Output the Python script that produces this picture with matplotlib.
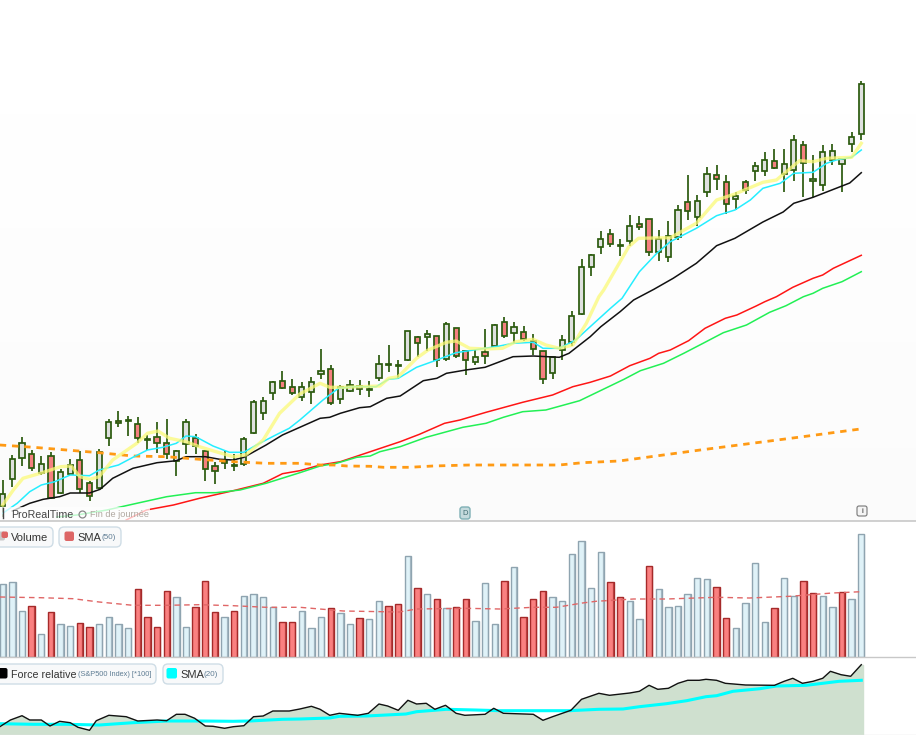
import numpy as np
import matplotlib
matplotlib.use('Agg')
import matplotlib.pyplot as plt
from matplotlib.patches import FancyBboxPatch, Rectangle

plt.rcParams['font.family'] = ['Liberation Sans', 'DejaVu Sans']

# candles, in chart units
opens = [15.3, 42, 63.3, 66.7, 47.7, 64.7, 27.7, 46.7, 60.7, 38.3,
         32.7, 82.7, 99.7, 101, 96.7, 81.7, 84.3, 78.3, 60, 77,
         83.3, 69.7, 54.7, 60.3, 56, 57, 87.7, 107.7, 128.3, 140.3,
         133.7, 124.3, 129.3, 147, 151.7, 122, 129.7, 135.3, 131.7, 142.7,
         156.7, 156.3, 160.7, 184.3, 184.3, 184.7, 162, 193.3, 169.7, 159.3,
         168.7, 174.7, 198.7, 187.7, 188.7, 180.3, 169.7, 148.3, 170.7, 179.3,
         207, 254.3, 274.3, 286.7, 275.7, 280.3, 296.7, 301.7, 269.3, 264.3,
         284.3, 318.7, 304.3, 329.3, 345.7, 338.7, 321.7, 338.7, 349.7, 349.7,
         359.7, 346.7, 350.7, 375.7, 339.7, 335.7, 361, 356.7, 377, 387.3]
highs = [41, 66, 83.7, 71, 65, 68.7, 51.7, 62, 70, 40.3,
         72, 102, 110, 105, 103.7, 86, 98.7, 101.7, 71.3, 101.7,
         86.7, 70.5, 58.7, 70, 66.7, 83.7, 120.7, 124.3, 139.7, 150,
         142, 138.7, 144.3, 171.7, 156, 136, 141, 141, 139.7, 166,
         176, 161, 190.3, 185, 191, 184.7, 198.7, 193.3, 170.3, 171,
         191.7, 196.7, 204, 198.7, 194.7, 187, 169.7, 164.3, 185.7, 209.7,
         261.7, 267, 289.7, 291.7, 282, 306, 305, 301.7, 291, 300,
         316, 345.7, 325.7, 353.7, 356, 345.7, 329, 341, 358.7, 369,
         372, 372, 386, 380, 366, 376, 377, 361.7, 389, 440]
lows = [4.3, 34.3, 55, 50.3, 46, 21.7, 26.7, 46, 27.7, 20.3,
        32, 75.3, 94, 85, 77.7, 71, 67.7, 61.7, 45.3, 67,
        67, 40.3, 37, 51.7, 50.3, 55.3, 87.3, 101, 121, 131.7,
        126, 120.3, 117, 142, 116, 117, 129.3, 126, 124.3, 140.3,
        149.3, 141.7, 160.3, 164.3, 170.3, 154.3, 160.3, 162.7, 146, 156,
        157, 174.3, 182.7, 177, 180.3, 166, 137, 142, 161, 174.7,
        206, 245.3, 267, 274.3, 265, 275.3, 291, 265, 260.3, 259.3,
        281, 301, 295, 324.3, 331, 307.3, 311, 327, 340, 345,
        351.7, 329.3, 340, 324, 323.7, 330.3, 356, 329.3, 369, 381.3]
closes = [26.7, 61.7, 78.3, 52.7, 56.7, 22.7, 48.7, 55.7, 32, 24.7,
          68.7, 98.7, 97.7, 99.7, 82.7, 81, 77.7, 67, 70.3, 98.7,
          75, 52, 49.7, 58, 54.7, 81.7, 118.7, 120.3, 138.7, 132.7,
          127.7, 134.3, 138.7, 150.3, 117.7, 134.3, 135.7, 131.7, 130.7, 156.7,
          156.3, 155.3, 189.7, 177.7, 186.7, 160.7, 196.7, 164.7, 160.7, 163.7,
          164.7, 195.7, 184.7, 193.7, 181.7, 172, 142, 164.3, 180.7, 204.7,
          253.7, 265.7, 281.7, 276.7, 275, 294.7, 294.3, 269.3, 281.7, 285.3,
          310.7, 310.3, 319.7, 346.7, 341.7, 316.7, 324.7, 330.7, 354.7, 360.7,
          352.7, 356.7, 380.7, 357.7, 341.7, 368.7, 369.7, 361.7, 383.7, 436.7]

black_x = [1, 2.8, 4.2, 5.9, 7, 9, 10.1, 11.4, 13.5, 16, 18, 19, 21, 22.5, 23.9, 25, 27.3, 29, 30.8,
           32.9, 33.9, 35, 37, 38.1, 39.8, 41.2, 43.6, 45, 46, 48, 50, 52.9, 55, 57.7, 58.7, 60.9, 62,
           64, 65.4, 67.5, 69.5, 71.9, 73.5, 74, 75.9, 78.8, 80.9, 82, 84, 87.8, 89]
black_y = [10, 17.7, 21.7, 24.3, 28, 28, 31.7, 42.7, 52.7, 58.3, 60.3, 64.3, 64.3, 61.7, 61, 63.7, 76, 86, 93.7,
           102.7, 103.7, 107.7, 113.3, 114.3, 122.7, 125, 140.3, 142.7, 147.7, 151, 153.7, 164.3, 165, 163.7, 167.7, 184.3, 194.3,
           209.3, 221, 231.7, 242.7, 257.7, 271, 275.3, 282.7, 299, 309, 317.7, 323.7, 338, 348.3]

cyan_x = [0, 1.5, 2.8, 4, 5.4, 7, 9, 10, 12, 13.5, 15, 16.6, 18, 19, 20, 21.8, 23.5, 25, 26.3, 28.3, 29.7, 30.8,
          32, 33.2, 34.8, 36.3, 38.7, 40, 41, 42.9, 45, 47, 50, 51.5, 52.9, 55, 56, 57.7, 59.4, 60.9,
          63, 64.2, 66, 67.8, 69.2, 71.9, 74, 75.9, 77.5, 78.8, 80.6, 82, 84, 85.4, 86.4, 88, 89]
cyan_y = [7.7, 17.7, 29.3, 36, 39.3, 46, 45.3, 51, 56, 63.7, 71, 73.7, 77.7, 85, 84.3, 75, 68.7, 68.7, 76, 86, 92.7, 101,
          111, 121, 132.7, 134.3, 134.3, 141.7, 142.7, 153.7, 161, 168.3, 172.7, 175, 177.7, 178.7, 172.7, 172.7, 181, 194.3,
          212.7, 222.7, 249.3, 267.7, 279.3, 292.7, 305.3, 311, 321, 332.7, 337.7, 347.7, 348.7, 357.7, 361, 363.7, 371]

yellow_x = [0, 1.1, 2.1, 3.9, 6, 7.1, 8, 9, 10, 11.4, 13.9, 15, 16.1, 17.3, 19, 20.4, 22.1, 23.9, 25.2, 27, 28.7, 30.8,
            32.9, 33.9, 35.3, 39.1, 40, 41, 42.9, 44.1, 46, 47, 48.4, 50.1, 51.8, 53.2, 55, 56.3, 57.7, 59.1, 60.5, 61.8,
            62.3, 63.7, 64.9, 65.9, 69.2, 71.9, 74, 75.9, 78.8, 80.2, 82.6, 84, 85.4, 88, 89]
yellow_y = [16, 31, 42.7, 47.7, 54.3, 55, 44.3, 41.7, 44.3, 61, 77.7, 87.7, 90, 82.7, 79.3, 74.3, 69.3, 64.3, 66, 81, 107.7, 127,
            137.7, 133.7, 133.7, 135, 142.7, 144.3, 162.7, 171, 178.7, 180, 172.7, 172, 172.7, 179.3, 181.7, 176, 172.7, 176, 197.7, 224.3,
            231, 254.3, 274.3, 282.7, 283.3, 297.7, 321, 327, 338.7, 341, 360.3, 359.3, 362.7, 363.7, 377.7]

red_x = [12.8, 14.9, 17.7, 20.4, 23.9, 27, 29, 30.8, 32.9, 35, 38.1, 41.2, 43.2, 45.8, 47.4, 50.1, 53.9, 57, 59.1,
         60.9, 63, 65, 67.1, 68, 69.2, 71.1, 72.8, 74.9, 76.1, 78.1, 79, 80.2, 81.9, 84, 85, 86.1, 89]
red_y = [1, 11, 16, 22.7, 30.3, 37.7, 47.3, 50.3, 56, 59.3, 69.3, 79.3, 86.7, 97.7, 101, 108.7, 118.7, 126, 134.3,
         138.7, 145, 155.3, 162.7, 167.7, 171, 180.3, 192.7, 202.7, 206, 215, 219.3, 224.3, 233.7, 242.7, 246, 252.7, 265.7]

green_x = [5.6, 7.7, 10.8, 13.9, 17, 20, 22.1, 24.6, 27.3, 30.8, 32.9, 34.6, 36.7, 38.1, 39.1, 41.2, 43.9, 47.7, 50.1,
           51.9, 53.9, 56.3, 59.8, 62.1, 64.4, 66.1, 68.5, 70.6, 72.6, 74.7, 77.1, 79.5, 81.2, 83, 84, 85, 87, 89]
green_y = [4, 6, 11, 17.7, 24.3, 28.3, 28.3, 31, 37.7, 48.3, 55, 57.7, 63.7, 65, 69.3, 74.3, 83.7, 93.7, 97.7,
           103.7, 109.3, 111, 120.3, 131, 141.7, 150.3, 157.7, 167.7, 177.7, 188.3, 196, 208.7, 215.3, 224.3, 227.7, 232.7, 239.3, 249.3]

orange_x = [-0.3, 3.2, 6.6, 10, 13.5, 17, 20.4, 23.9, 27.3, 30.8, 32.9, 34.3, 35.7, 38.1, 39.5, 42.2, 44.6, 48.4, 57.7, 60.1, 63.9,
            72.3, 82.7, 88.9]
orange_y = [76, 73.7, 71, 68.3, 65, 64.3, 61.7, 59.3, 57.7, 57.7, 56, 56, 55, 54.7, 53.7, 53.7, 55, 56, 56, 58.3, 60,
            71, 84, 92]

volume = [73, 75, 46, 51, 23, 45, 33, 31, 34, 30,
          33, 40, 33, 29, 68, 40, 30, 66, 60, 30,
          50, 76, 45, 40, 46, 61, 63, 60, 50, 35,
          35, 46, 29, 40, 49, 44, 33, 39, 38, 56,
          51, 53, 101, 69, 63, 58, 49, 50, 58, 36,
          74, 33, 76, 90, 40, 58, 66, 60, 56, 103,
          116, 69, 105, 75, 60, 56, 38, 91, 68, 50,
          51, 63, 79, 78, 70, 39, 29, 54, 94, 35,
          49, 79, 61, 76, 64, 61, 50, 65, 58, 123]
volume_down = [3, 5, 8, 9, 14, 15, 16, 17, 20, 21, 22, 24, 29, 30, 34, 37, 40, 41, 43, 45, 47, 48,
               52, 54, 55, 56, 63, 64, 67, 74, 75, 80, 83, 84, 87]

vol_sma_x = [-0.3, 3.9, 7.3, 10, 13.5, 17, 20.4, 23.9, 27.3, 30.8, 35.3, 41.1, 42.9, 48, 51.5, 55, 57.4, 60.1, 61.5,
             65.4, 68.8, 74, 77.4, 81.6, 86, 89]
vol_sma_y = [60, 59.3, 58.3, 55, 51.7, 51.7, 52.3, 51.3, 49.7, 49.7, 46, 45, 48, 48.7, 48, 49.7, 49.7, 54, 55.7,
             58, 58, 59.7, 59, 60.7, 64, 65.3]

force_x = [-0.3, 0.8, 2, 2.8, 4, 4.9, 5.9, 7, 7.8, 9, 9.7, 11, 12.8, 14, 16, 17, 18, 18.9, 19.9, 21, 21.8, 23, 23.9, 25, 26, 27, 28, 29.7, 30.8,
           32, 32.9, 33.9, 34.9, 36.8, 37.9, 39, 39.9, 41, 42, 42.9, 43.9, 44.8, 45.9, 47, 47.9, 50, 50.9, 51.9, 55, 56, 57, 58.9, 60, 61.8,
           62.9, 65, 66, 67, 67.9, 69, 70, 71, 72.2, 72.9, 74, 74.9, 77, 80, 81, 81.9, 82.9, 84, 85, 85.8, 86.9, 87.9, 89]
force_y = [8.3, 15, 19.3, 15, 15, 9, 13.7, 12.3, 7.7, 4.7, 14.3, 19.7, 18.3, 14, 15, 14.3, 20.7, 20.7, 16.7, 9, 8.7, 6.7, 8.3, 9.3, 18.3, 19, 24, 24, 26,
           28.7, 25.7, 19.7, 21.7, 19.7, 21.7, 31, 29, 24.7, 34.7, 31, 31.7, 25.7, 29.7, 21.7, 19.7, 20.7, 26.7, 21.7, 20.7, 14.7, 18.3, 24.7, 35.7, 41.7,
           39.7, 42, 43.7, 49.7, 45.7, 46.7, 51.7, 54.7, 54.7, 55.7, 54.7, 51.7, 50, 49.7, 53.7, 56.7, 51.7, 53.7, 56.7, 63.7, 60.3, 58.7, 70.3]

force_sma_x = [-0.3, 3.2, 6.6, 10, 13.5, 17, 20.4, 23.9, 25.6, 29, 30.8, 33.9, 34.9, 37.7, 41.8, 42.9, 46, 49, 51.5, 58.7, 61.8,
               64.3, 66, 68.8, 70.9, 72.9, 74, 75.7, 78.5, 80.2, 83.3, 86.7, 89]
force_sma_y = [11.3, 10.7, 10.7, 10, 12.3, 14, 14, 13.7, 14, 15.7, 16, 17, 18.7, 19, 21, 23.3, 25.7, 25, 24.3, 24.3, 25.7,
               26, 28.3, 31.3, 34.3, 38.3, 39.3, 43.7, 46.3, 49, 49.7, 53.7, 54.7]

W, H = 916, 735
X0, STEP = 2.7, 9.647
xlim = (-X0 / STEP, (W - X0) / STEP)


def pane(top, bottom, ymax, color):
    ax = fig.add_axes([0, 1 - bottom / H, 1, (bottom - top) / H], facecolor=color)
    ax.set_xlim(xlim)
    ax.set_ylim(0, ymax)
    ax.axis('off')
    ax.patch.set_visible(True)
    return ax


fig = plt.figure(figsize=(W / 100, H / 100), dpi=100, facecolor='white')

# price pane
ax = pane(0, 521, 521, '#fbfbfb')
ax.imshow(np.linspace(1.0, 0.982, 64).reshape(-1, 1), cmap='gray', vmin=0, vmax=1, aspect='auto',
          extent=(xlim[0], xlim[1], 0, 521), zorder=0)
xs = np.arange(len(opens))
wick = '#2b5a0e'
ax.vlines(xs, lows, highs, color=wick, lw=1.25, zorder=2)
for i in xs:
    down = closes[i] < opens[i]
    ax.bar(i, abs(closes[i] - opens[i]), bottom=min(opens[i], closes[i]), width=0.54,
           color='#f58080' if down else '#dfe1df', edgecolor=wick, lw=1.25, zorder=3)
ax.plot(black_x, black_y, color='#111111', lw=1.1, zorder=4)
ax.plot(red_x, red_y, color='#ff1515', lw=1.1, zorder=4)
ax.plot(green_x, green_y, color='#22f055', lw=1.1, zorder=4)
ax.plot(orange_x, orange_y, color='#ff9a14', lw=2.0, dashes=(2.3, 2.1), zorder=4)
ax.plot(cyan_x, cyan_y, color='#25eeff', lw=1.1, zorder=5)
ax.plot(yellow_x, yellow_y, color='#fbfa78', lw=2.4, alpha=0.75, zorder=5)

# volume pane
ax_vol = pane(521, 657, 136, '#f7f7f7')
for i, v in enumerate(volume):
    down = i in volume_down
    edge = '#a52a2a' if down else '#8fa4b0'
    ax_vol.bar(i, v, width=0.66, color='#fa8080' if down else '#dff2f8', edgecolor=edge, lw=1.0, zorder=2)
    ax_vol.vlines(i + 0.26, 0, v, color=edge, lw=0.9, alpha=0.7, zorder=2)
ax_vol.plot(vol_sma_x, vol_sma_y, color='#e06666', lw=1.0, dashes=(4, 3), zorder=3)

# relative strength pane
ax_rs = pane(657, 735, 78, '#f7f7f7')
ax_rs.fill_between(force_x, force_y, color='#cfe0cf', zorder=1)
ax_rs.fill_between([89, 89.15], [70.3, 70.3], color='#cfe0cf', zorder=1)
ax_rs.plot(force_x, force_y, color='#111111', lw=1.0, zorder=3)
ax_rs.plot(force_sma_x, force_sma_y, color='#00ffff', lw=2.2, zorder=2)

# overlay in pixels for separators, legends and labels
ov = fig.add_axes([0, 0, 1, 1], facecolor='none')
ov.set_xlim(0, W)
ov.set_ylim(H, 0)
ov.axis('off')
ov.plot([0, W], [521, 521], color='#c8c8c8', lw=1.2)
ov.plot([0, W], [656.5, 656.5], color='#c8c8c8', lw=1.0)
ov.plot([0, W], [734.5, 734.5], color='#e4e4e4', lw=1.0)

ov.add_patch(Rectangle((0, 507), 150, 14, color='white', alpha=0.72, lw=0))
ov.text(11, 514.5, 'ProRealTime', fontsize=7.7, color='#444444', va='center')
ov.plot([82], [514], 'o', ms=5, mfc='none', mec='#888888', mew=0.9)
ov.text(90, 514.5, 'Fin de journée', fontsize=6.6, color='#b0a8a0', va='center')
ov.plot([2.5, 2.5], [508, 518], color='#444444', lw=1.0)


def legend_box(x0, x1, y0, y1):
    ov.add_patch(FancyBboxPatch((x0, y0), x1 - x0, y1 - y0, boxstyle='round,pad=0,rounding_size=5',
                                fc='#f8f9fa', ec='#cfdde6', lw=1.0))


def legend_icon(x0, y0, size, color):
    ov.add_patch(FancyBboxPatch((x0, y0), size, size, boxstyle='round,pad=0,rounding_size=2', fc=color, ec='none'))


legend_box(-8, 53, 527, 547)
legend_box(59, 121, 527, 547)
legend_icon(-4, 531.5, 9, '#c9c9c9')
legend_icon(1.5, 531.5, 6.5, '#dd6666')
legend_icon(64.5, 531.5, 9.5, '#dd6666')
ov.text(11, 538, 'Volume', fontsize=8, color='#333333', va='center')
ov.text(77, 538, 'SMA', fontsize=8, color='#333333', va='center')
ov.text(102, 537.5, '(50)', fontsize=5.8, color='#5f7d94', va='center')

legend_box(-8, 156, 664, 684)
legend_box(163, 223, 664, 684)
legend_icon(-3, 668, 10.5, '#000000')
legend_icon(166.5, 668, 10.5, '#00ffff')
ov.text(11, 675, 'Force relative', fontsize=7.7, color='#333333', va='center')
ov.text(78, 674.5, '(S&P500 Index) [*100]', fontsize=5.3, color='#5f7d94', va='center')
ov.text(180, 675, 'SMA', fontsize=8, color='#333333', va='center')
ov.text(204, 674.5, '(20)', fontsize=5.8, color='#5f7d94', va='center')

ov.add_patch(FancyBboxPatch((460, 507), 10, 12, boxstyle='round,pad=0,rounding_size=2.5', fc='#c5dadd', ec='#7fb0b5'))
ov.text(465, 513.2, 'D', fontsize=5.5, color='#3f6b70', ha='center', va='center')
ov.add_patch(FancyBboxPatch((857, 506), 10, 10, boxstyle='round,pad=0,rounding_size=2', fc='#f4f4f4', ec='#777777', lw=0.8))
ov.text(862, 511.2, 'i', fontsize=6, color='#333333', ha='center', va='center')

fig.savefig('out.png', dpi=100)
